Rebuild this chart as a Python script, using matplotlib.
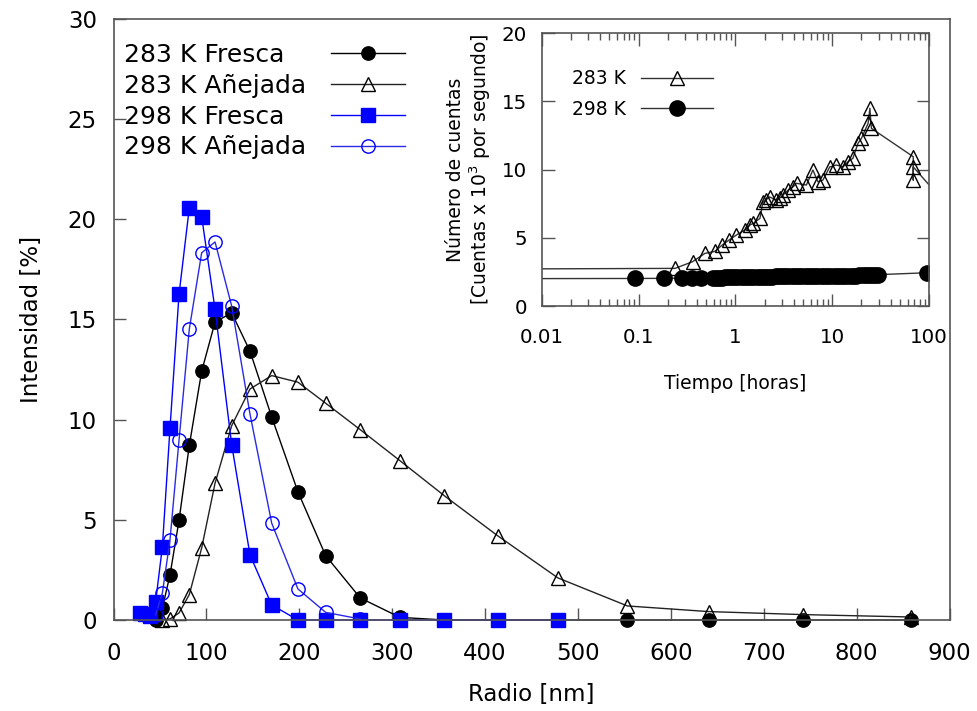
"""
particle size distribution (DLS) at 283 K and 298 K, with count rate inset
"""

import matplotlib
matplotlib.use('Agg')
import matplotlib.pyplot as plt
from matplotlib.lines import Line2D
from matplotlib.ticker import LogLocator, NullFormatter

# main plot, radius [nm] against intensity [%]
RADIO_283_FRESCA = [45.3, 52.6, 60.8, 70.5, 81.6, 94.9, 109.3, 127.2, 146.9,
                    170.3, 198.5, 228.4, 265.6, 308.4, 356.2, 413.4, 478.4,
                    553.3, 640.6, 741.9, 858.1]
INT_283_FRESCA = [0.0, 0.6, 2.25, 4.97, 8.72, 12.42, 14.87, 15.33, 13.42,
                  10.13, 6.4, 3.21, 1.1, 0.13, 0.0, 0.0, 0.0,
                  0.0, 0.0, 0.0, 0.0]

RADIO_283_ANEJADA = [52.6, 60.8, 70.5, 81.6, 94.9, 109.3, 127.2, 146.9, 170.3,
                     198.5, 228.4, 265.6, 308.4, 356.2, 413.4, 478.4, 553.3,
                     640.6, 741.9, 858.1]
INT_283_ANEJADA = [0.0, 0.05, 0.35, 1.27, 3.6, 6.83, 9.7, 11.53, 12.2,
                   11.87, 10.82, 9.5, 7.95, 6.2, 4.21, 2.1, 0.7,
                   0.42, 0.27, 0.15]

RADIO_298_FRESCA = [28.5, 33.4, 38.8, 45.3, 52.6, 60.8, 70.5, 81.6, 94.9,
                    109.3, 127.2, 146.9, 170.3, 198.5, 228.4, 265.6, 308.4,
                    356.2, 413.4, 478.4]
INT_298_FRESCA = [0.33, 0.28, 0.2, 0.9, 3.66, 9.58, 16.25, 20.58, 20.13,
                  15.5, 8.75, 3.25, 0.75, 0.0, 0.0, 0.0, 0.0,
                  0.0, 0.0, 0.0]

RADIO_298_ANEJADA = [45.3, 52.6, 60.8, 70.5, 81.6, 94.9, 109.3, 127.2, 146.9,
                     170.3, 198.5, 228.4, 265.6]
INT_298_ANEJADA = [0.25, 1.35, 4.0, 8.97, 14.53, 18.33, 18.87, 15.67, 10.28,
                   4.83, 1.55, 0.38, 0.05]

# inset, time [h] against count rate [x 10^3 counts/s]
# first point of each series lies left of the axis (start of the run)
TIEMPO_283 = [0.001, 0.238, 0.361, 0.484, 0.61, 0.73, 0.86, 1.02, 1.25, 1.41,
              1.53, 1.79, 1.92, 2.05, 2.26, 2.6, 2.85, 3.1, 3.5, 3.95, 4.27,
              5.4, 6.3, 7.1, 8.0, 9.4, 11.0, 12.9, 14.5, 16.3, 18.4, 20.0,
              23.4, 24.4, 25.3, 68.4, 68.4, 68.4, 130.0]
CUENTAS_283 = [2.7, 2.76, 3.25, 3.86, 4.0, 4.47, 4.84, 5.2, 5.57, 5.94,
               6.06, 6.43, 7.6, 7.77, 8.0, 7.77, 7.9, 8.14, 8.5, 8.75, 9.0,
               8.87, 9.97, 9.11, 9.24, 10.2, 10.34, 10.2, 10.58, 10.83, 11.93,
               12.3, 13.4, 14.5, 13.03, 10.95, 9.24, 10.2, 7.95]

TIEMPO_298 = [0.001, 0.092, 0.183, 0.278, 0.36, 0.446, 0.59, 0.63, 0.68, 0.73,
              0.78, 0.84, 0.9, 0.97, 1.05, 1.13, 1.22, 1.32, 1.42, 1.53, 1.65,
              1.78, 1.92, 2.07, 2.23, 2.4, 2.6, 2.8, 3.0, 3.25, 3.5, 3.8, 4.1,
              4.4, 4.8, 5.2, 5.6, 6.0, 6.5, 7.0, 7.6, 8.2, 8.8, 9.5, 10.3,
              11.1, 12.0, 13.0, 14.0, 15.1, 16.3, 17.6, 19.0, 20.5, 22.1, 23.9,
              25.8, 27.8, 29.8, 95.5]
CUENTAS_298 = [2.0, 2.02, 2.03, 2.05, 2.06, 2.07, 2.08, 2.08, 2.09, 2.09,
               2.1, 2.1, 2.1, 2.11, 2.11, 2.12, 2.12, 2.13, 2.13, 2.14, 2.14,
               2.15, 2.15, 2.16, 2.16, 2.16, 2.17, 2.17, 2.17, 2.18, 2.18, 2.18,
               2.18, 2.19, 2.19, 2.19, 2.19, 2.2, 2.2, 2.2, 2.2, 2.2, 2.21,
               2.21, 2.21, 2.21, 2.21, 2.22, 2.22, 2.22, 2.23, 2.23, 2.24,
               2.24, 2.25, 2.26, 2.27, 2.28, 2.3, 2.44]

SPINE = '#555555'
BLUE = '#0000ff'

plt.rcParams['font.family'] = ['DejaVu Sans']
plt.rcParams['mathtext.fontset'] = 'dejavusans'


def style_spines(ax, color):
    """
    grey frame lines like the gnuplot border
    """
    for spine in ax.spines.values():
        spine.set_color(color)
        spine.set_linewidth(1.2)


def main_plot(fig):
    """
    size distribution, intensity vs radius
    """
    ax = fig.add_axes([0.1162, 0.128, 0.8557, 0.8453])
    lines = []
    lines += ax.plot(RADIO_283_FRESCA, INT_283_FRESCA, '-o', color='black',
                     lw=1, ms=9.6, clip_on=False, label='283 K Fresca')
    lines += ax.plot(RADIO_283_ANEJADA, INT_283_ANEJADA, '-^',
                     color='#222222', lw=1, ms=10, mfc='none', mec='black',
                     mew=1, clip_on=False, label='283 K Añejada')
    lines += ax.plot(RADIO_298_FRESCA, INT_298_FRESCA, '-s', color=BLUE,
                     lw=1, ms=9.6, clip_on=False, label='298 K Fresca')
    lines += ax.plot(RADIO_298_ANEJADA, INT_298_ANEJADA, '-o',
                     color='#2a2ae6', lw=1, ms=9.6, mfc='none', mec=BLUE,
                     mew=1, clip_on=False, label='298 K Añejada')
    ax.set_xlim(0, 900)
    ax.set_ylim(0, 30)
    ax.set_xticks(range(0, 901, 100))
    ax.set_yticks(range(0, 31, 5))
    ax.tick_params(axis='both', direction='in', length=8.5, width=1,
                   color=SPINE, labelsize=16.5, top=False, right=False)
    ax.tick_params(axis='x', pad=16)
    ax.tick_params(axis='y', pad=12)
    ax.set_xlabel('Radio [nm]', fontsize=16.5, labelpad=13)
    ax.set_ylabel('Intensidad [%]', fontsize=16.5, labelpad=18)
    style_spines(ax, SPINE)

    # gnuplot key: labels left aligned, samples in their own column
    labels = [line.get_label() for line in lines]
    blank = [Line2D([], [], ls='none', marker='') for _ in lines]
    common = dict(loc='upper left', frameon=False, fontsize=18,
                  labelspacing=0.27, borderpad=0, borderaxespad=0)
    key_text = ax.legend(blank, labels, bbox_to_anchor=(0.0126, 0.96),
                         handlelength=0, handletextpad=0, **common)
    ax.add_artist(key_text)
    ax.legend(lines, [' '] * len(lines), bbox_to_anchor=(0.260, 0.96),
              handlelength=2.96, handletextpad=0, **common)
    return ax


def inset_plot(fig):
    """
    count rate vs time, log time axis
    """
    ax = fig.add_axes([0.5544, 0.5696, 0.3967, 0.3836])
    ax.set_facecolor('white')
    ax.plot(TIEMPO_283, CUENTAS_283, '-^', color='#333333', lw=1, ms=9.6,
            mfc='none', mec='black', mew=1, label='283 K')
    ax.plot(TIEMPO_298, CUENTAS_298, '-o', color='#333333', lw=1, ms=11,
            mfc='black', mec='black', label='298 K')
    ax.set_xscale('log')
    ax.set_xlim(0.01, 100)
    ax.set_ylim(0, 20)
    ax.set_xticks([0.01, 0.1, 1, 10, 100])
    ax.set_xticklabels(['0.01', '0.1', '1', '10', '100'])
    ax.xaxis.set_minor_locator(LogLocator(base=10, subs=range(2, 10)))
    ax.xaxis.set_minor_formatter(NullFormatter())
    ax.set_yticks(range(0, 21, 5))
    ax.tick_params(axis='both', which='major', direction='in', length=9,
                   width=1, color=SPINE, labelsize=14.3, top=True, right=True)
    ax.tick_params(axis='x', which='minor', direction='in', length=5,
                   width=1, color=SPINE, top=True)
    ax.tick_params(axis='x', which='major', pad=16)
    ax.tick_params(axis='y', which='major', pad=10.5)
    ax.set_xlabel('Tiempo [horas]', fontsize=13.5, labelpad=19)
    ax.set_ylabel('Número de cuentas\n[Cuentas x 10$^3$ por segundo]',
                  fontsize=13.5, labelpad=6, linespacing=1.15)
    style_spines(ax, SPINE)
    ax.legend(loc='upper left', bbox_to_anchor=(0.0774, 0.868),
              frameon=False, fontsize=13.5, markerfirst=False,
              handlelength=3.84, handletextpad=0.82, labelspacing=0.6,
              borderpad=0, borderaxespad=0)
    return ax


def main():
    """
    main program code
    """
    fig = plt.figure(figsize=(9.77, 7.11), dpi=100)
    main_plot(fig)
    inset_plot(fig)
    fig.savefig('out.png', dpi=100, facecolor='white')


if __name__ == '__main__':
    main()
